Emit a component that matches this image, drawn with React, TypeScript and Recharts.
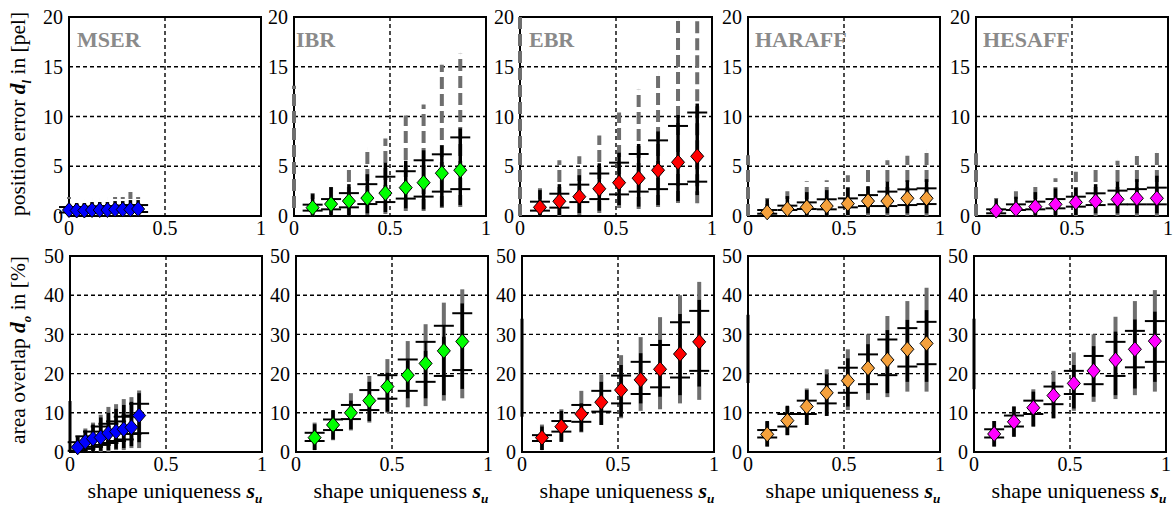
import React from 'react';
import { ScatterChart, Scatter, XAxis, YAxis, CartesianGrid, ErrorBar, ReferenceArea } from 'recharts';

const FONT = 'Liberation Serif';

// ---- bin centres (mean shape uniqueness per bin) ----
const X_MSER_TOP = [0, 0.04, 0.08, 0.12, 0.16, 0.2, 0.24, 0.28, 0.32, 0.36];
const X_MSER_BOT = [0.04, 0.08, 0.12, 0.16, 0.2, 0.24, 0.28, 0.32, 0.36];
const X_IBR = [0.097, 0.193, 0.286, 0.382, 0.476, 0.582, 0.675, 0.77, 0.866];
const X_EBR = [0.104, 0.205, 0.309, 0.413, 0.516, 0.618, 0.719, 0.823, 0.923];
const X_HARAFF = [0.1, 0.205, 0.306, 0.41, 0.52, 0.625, 0.726, 0.83, 0.93];
const X_HESAFF = [0.105, 0.208, 0.309, 0.414, 0.52, 0.623, 0.737, 0.838, 0.942];

// ---- position error d_l [pel] ----
const MSER_POS_MED = [0.6, 0.55, 0.55, 0.6, 0.6, 0.6, 0.65, 0.65, 0.65, 0.7];
const MSER_POS_CAP_LO = [0.35, 0.3, 0.3, 0.35, 0.35, 0.35, 0.4, 0.4, 0.4, 0.4];
const MSER_POS_CAP_HI = [0.9, 0.9, 0.9, 0.95, 0.95, 1.0, 1.0, 1.05, 1.1, 1.1];
const MSER_POS_BLK_LO = [0, 0, 0, 0, 0, 0, 0, 0, 0, 0];
const MSER_POS_BLK_HI = [1.2, 1.3, 1.3, 1.4, 1.4, 1.4, 1.5, 1.5, 1.6, 1.6];
const MSER_POS_GRY_LO = [0, 0, 0, 0, 0, 0, 0, 0, 0, 0];
const MSER_POS_GRY_HI = [1.9, 1.5, 1.5, 1.6, 1.6, 1.7, 1.9, 1.9, 2.4, 1.9];

const IBR_POS_MED = [0.84, 1.2, 1.5, 1.8, 2.3, 2.85, 3.35, 4.3, 4.6];
const IBR_POS_CAP_LO = [0.54, 0.67, 0.87, 1.2, 1.4, 1.75, 1.95, 2.45, 2.7];
const IBR_POS_CAP_HI = [1.14, 1.7, 2.3, 3.2, 3.95, 4.5, 5.6, 6.2, 7.9];
const IBR_POS_BLK_LO = [0, 0, 0, 0.27, 0.4, 0.77, 0.67, 0.93, 1.1];
const IBR_POS_BLK_HI = [2.2, 2.9, 3.2, 4.2, 5.35, 5.55, 6.6, 7.1, 8.8];
const IBR_POS_GRY_LO = [0, 0, 0, 0.1, 0.2, 0.5, 0.5, 0.8, 0.9];
const IBR_POS_GRY_HI = [2.3, 3.0, 4.7, 6.7, 7.8, 10.1, 11.2, 15.2, 16.3];

const EBR_POS_MED = [0.87, 1.48, 1.94, 2.74, 3.35, 3.8, 4.6, 5.4, 6.0];
const EBR_POS_CAP_LO = [0.54, 0.84, 1.4, 1.7, 2.17, 2.45, 2.7, 3.2, 3.45];
const EBR_POS_CAP_HI = [1.44, 2.24, 3.15, 4.27, 5.36, 6.23, 7.6, 9.05, 10.4];
const EBR_POS_BLK_LO = [0, 0.1, 0.3, 0.53, 1.1, 0.94, 1.1, 1.5, 2.1];
const EBR_POS_BLK_HI = [2.6, 3.2, 4.1, 5.3, 6.36, 7.24, 8.5, 10.15, 11.3];
const EBR_POS_GRY_LO = [0, 0, 0.1, 0.3, 0.8, 0.7, 0.9, 1.3, 1.27];
const EBR_POS_GRY_HI = [2.8, 5.6, 6.0, 8.1, 10.4, 12.7, 14.3, 19.8, 20];

const HARAFF_POS_MED = [0.37, 0.7, 0.87, 1.0, 1.24, 1.5, 1.5, 1.78, 1.78];
const HARAFF_POS_CAP_LO = [0.23, 0.6, 0.7, 0.67, 0.87, 1.0, 1.0, 1.1, 1.2];
const HARAFF_POS_CAP_HI = [0.6, 1.04, 1.37, 1.68, 1.77, 2.1, 2.45, 2.68, 2.78];
const HARAFF_POS_BLK_LO = [0, 0, 0, 0, 0.1, 0.27, 0.27, 0.27, 0.27];
const HARAFF_POS_BLK_HI = [1.7, 2.0, 2.4, 2.6, 2.85, 3.0, 3.45, 3.6, 3.7];
const HARAFF_POS_GRY_LO = [0, 0, 0, 0, 0, 0, 0, 0, 0];
const HARAFF_POS_GRY_HI = [1.8, 2.5, 3.5, 3.6, 4.1, 5.05, 5.6, 6.06, 6.47];

const HESAFF_POS_MED = [0.54, 0.7, 0.94, 1.17, 1.37, 1.47, 1.67, 1.78, 1.78];
const HESAFF_POS_CAP_LO = [0.27, 0.6, 0.67, 0.77, 0.94, 1.1, 1.17, 1.17, 1.17];
const HESAFF_POS_CAP_HI = [0.67, 1.17, 1.44, 1.7, 1.94, 2.28, 2.55, 2.7, 2.85];
const HESAFF_POS_BLK_LO = [0, 0, 0, 0, 0.1, 0.27, 0.27, 0.27, 0.27];
const HESAFF_POS_BLK_HI = [1.7, 1.94, 2.4, 2.78, 2.85, 3.2, 3.45, 3.7, 4.05];
const HESAFF_POS_GRY_LO = [0, 0, 0, 0, 0, 0, 0, 0, 0];
const HESAFF_POS_GRY_HI = [1.8, 2.5, 3.2, 3.8, 4.45, 4.95, 5.56, 6.03, 6.4];

// ---- area overlap d_o [%] ----
const MSER_OVL_MED = [1.2, 2.6, 3.4, 3.7, 4.8, 5.2, 5.8, 6.3, 9.3];
const MSER_OVL_CAP_LO = [0.3, 0.8, 1.3, 1.8, 2.3, 2.8, 3.2, 4.6, 4.8];
const MSER_OVL_CAP_HI = [2.5, 4.0, 5.2, 6.5, 7.2, 7.8, 9.0, 9.3, 12.3];
const MSER_OVL_BLK_LO = [0, 0, 0, 0.3, 0.5, 0.8, 1.0, 1.5, 2.5];
const MSER_OVL_BLK_HI = [3.8, 5.5, 7.0, 8.8, 10.0, 11.0, 12.0, 12.8, 15.0];
const MSER_OVL_GRY_LO = [0, 0, 0, 0, 0, 0.5, 0.5, 1.0, 1.0];
const MSER_OVL_GRY_HI = [4.0, 6.0, 7.5, 9.5, 11.5, 12.2, 13.5, 14.0, 15.7];

const IBR_OVL_MED = [3.66, 6.9, 10.0, 13.1, 16.7, 19.6, 22.6, 25.8, 28.2];
const IBR_OVL_CAP_LO = [2.8, 5.6, 8.4, 10.7, 13.6, 15.6, 17.9, 19.4, 20.9];
const IBR_OVL_CAP_HI = [4.9, 8.3, 12.0, 15.8, 19.6, 23.6, 28.1, 32.2, 35.4];
const IBR_OVL_BLK_LO = [0.5, 3.2, 5.8, 7.9, 10.3, 13.7, 13.7, 14.5, 16.1];
const IBR_OVL_BLK_HI = [7.1, 10.7, 13.1, 17.9, 20.2, 23.3, 25.8, 29.4, 37.9];
const IBR_OVL_GRY_LO = [0.5, 3.0, 5.5, 7.5, 10.0, 11.4, 11.7, 13.1, 13.7];
const IBR_OVL_GRY_HI = [7.5, 10.5, 15.0, 19.4, 23.7, 28.3, 32.6, 38.1, 41.5];

const EBR_OVL_MED = [3.66, 6.46, 9.7, 12.7, 15.8, 18.4, 21.1, 25.0, 28.1];
const EBR_OVL_CAP_LO = [2.8, 5.2, 7.7, 10.3, 12.4, 14.8, 16.5, 19.0, 20.7];
const EBR_OVL_CAP_HI = [4.3, 7.9, 12.0, 15.6, 19.5, 23.0, 27.3, 33.1, 36.0];
const EBR_OVL_BLK_LO = [0.5, 2.6, 5.2, 6.9, 9.0, 12.4, 14.1, 14.5, 16.7];
const EBR_OVL_BLK_HI = [6.5, 10.5, 12.4, 17.9, 22.2, 25.2, 28.6, 35.2, 38.8];
const EBR_OVL_GRY_LO = [0.5, 2.6, 5.0, 6.9, 8.6, 10.5, 10.9, 12.4, 13.3];
const EBR_OVL_GRY_HI = [7.0, 10.9, 15.6, 19.8, 24.7, 29.3, 34.4, 40.0, 43.4];

const HARAFF_OVL_MED = [4.5, 8.0, 11.6, 15.1, 18.2, 21.4, 23.5, 26.2, 27.7];
const HARAFF_OVL_CAP_LO = [3.7, 6.5, 9.7, 12.4, 15.1, 17.3, 19.6, 21.8, 22.4];
const HARAFF_OVL_CAP_HI = [5.6, 9.7, 13.1, 17.3, 21.5, 24.9, 28.7, 31.6, 33.2];
const HARAFF_OVL_BLK_LO = [1.4, 4.3, 6.9, 9.2, 11.6, 15.0, 15.0, 17.9, 17.9];
const HARAFF_OVL_BLK_HI = [7.9, 11.8, 15.8, 19.8, 23.9, 27.5, 31.1, 33.7, 36.2];
const HARAFF_OVL_GRY_LO = [1.4, 4.3, 6.9, 9.2, 10.7, 13.3, 14.0, 15.4, 15.4];
const HARAFF_OVL_GRY_HI = [7.8, 11.6, 16.2, 21.1, 26.2, 30.0, 34.7, 38.5, 41.9];

const HESAFF_OVL_MED = [4.6, 7.7, 11.3, 14.4, 17.5, 20.7, 23.5, 26.2, 28.3];
const HESAFF_OVL_CAP_LO = [3.7, 6.5, 9.7, 12.2, 14.8, 17.3, 19.4, 21.6, 23.0];
const HESAFF_OVL_CAP_HI = [5.8, 9.3, 13.1, 16.7, 20.7, 24.5, 28.1, 30.9, 33.4];
const HESAFF_OVL_BLK_LO = [1.4, 3.9, 6.5, 8.6, 11.1, 14.1, 14.5, 16.2, 17.9];
const HESAFF_OVL_BLK_HI = [7.9, 11.6, 15.4, 17.9, 22.2, 27.0, 30.7, 33.8, 35.8];
const HESAFF_OVL_GRY_LO = [1.4, 3.9, 6.5, 8.6, 10.5, 12.8, 13.5, 14.5, 15.4];
const HESAFF_OVL_GRY_HI = [7.9, 11.6, 16.0, 20.7, 25.4, 30.0, 34.5, 38.5, 41.3];

// partial bins at s_u = 0 that only show as a bar on the left frame: [lo, hi]
const EDGE_POS: ([number, number] | null)[] = [null, [0.8, 13.1], [0, 20], [0, 6.1], [0, 6.3]];
const EDGE_OVL: ([number, number] | null)[] = [[0, 13], null, [9, 34], [17.6, 35], [16, 34]];

const DETECTORS = ['MSER', 'IBR', 'EBR', 'HARAFF', 'HESAFF'];
const COLORS = ['#0000ff', '#00ff00', '#ff0000', '#f5a13c', '#ff00ff'];
const POS_TICKS = [0, 5, 10, 15, 20];
const OVL_TICKS = [0, 10, 20, 30, 40, 50];
const X_TICKS = [0, 0.5, 1];

type Row = { x: number; med: number; capLo: number; capHi: number; blkLo: number; blkHi: number; gryLo: number; gryHi: number };
type Edge = { x: number; med: number; lo: number; hi: number };

const rows = (xs: number[], med: number[], capLo: number[], capHi: number[], blkLo: number[], blkHi: number[], gryLo: number[], gryHi: number[]): Row[] =>
    xs.map((x, i) => ({
        x, med: med[i], capLo: capLo[i], capHi: capHi[i], blkLo: blkLo[i], blkHi: blkHi[i], gryLo: gryLo[i], gryHi: gryHi[i],
    }));

const POS_DATA: Row[][] = [
    rows(X_MSER_TOP, MSER_POS_MED, MSER_POS_CAP_LO, MSER_POS_CAP_HI, MSER_POS_BLK_LO, MSER_POS_BLK_HI, MSER_POS_GRY_LO, MSER_POS_GRY_HI),
    rows(X_IBR, IBR_POS_MED, IBR_POS_CAP_LO, IBR_POS_CAP_HI, IBR_POS_BLK_LO, IBR_POS_BLK_HI, IBR_POS_GRY_LO, IBR_POS_GRY_HI),
    rows(X_EBR, EBR_POS_MED, EBR_POS_CAP_LO, EBR_POS_CAP_HI, EBR_POS_BLK_LO, EBR_POS_BLK_HI, EBR_POS_GRY_LO, EBR_POS_GRY_HI),
    rows(X_HARAFF, HARAFF_POS_MED, HARAFF_POS_CAP_LO, HARAFF_POS_CAP_HI, HARAFF_POS_BLK_LO, HARAFF_POS_BLK_HI, HARAFF_POS_GRY_LO, HARAFF_POS_GRY_HI),
    rows(X_HESAFF, HESAFF_POS_MED, HESAFF_POS_CAP_LO, HESAFF_POS_CAP_HI, HESAFF_POS_BLK_LO, HESAFF_POS_BLK_HI, HESAFF_POS_GRY_LO, HESAFF_POS_GRY_HI),
];

const OVL_DATA: Row[][] = [
    rows(X_MSER_BOT, MSER_OVL_MED, MSER_OVL_CAP_LO, MSER_OVL_CAP_HI, MSER_OVL_BLK_LO, MSER_OVL_BLK_HI, MSER_OVL_GRY_LO, MSER_OVL_GRY_HI),
    rows(X_IBR, IBR_OVL_MED, IBR_OVL_CAP_LO, IBR_OVL_CAP_HI, IBR_OVL_BLK_LO, IBR_OVL_BLK_HI, IBR_OVL_GRY_LO, IBR_OVL_GRY_HI),
    rows(X_EBR, EBR_OVL_MED, EBR_OVL_CAP_LO, EBR_OVL_CAP_HI, EBR_OVL_BLK_LO, EBR_OVL_BLK_HI, EBR_OVL_GRY_LO, EBR_OVL_GRY_HI),
    rows(X_HARAFF, HARAFF_OVL_MED, HARAFF_OVL_CAP_LO, HARAFF_OVL_CAP_HI, HARAFF_OVL_BLK_LO, HARAFF_OVL_BLK_HI, HARAFF_OVL_GRY_LO, HARAFF_OVL_GRY_HI),
    rows(X_HESAFF, HESAFF_OVL_MED, HESAFF_OVL_CAP_LO, HESAFF_OVL_CAP_HI, HESAFF_OVL_BLK_LO, HESAFF_OVL_BLK_HI, HESAFF_OVL_GRY_LO, HESAFF_OVL_GRY_HI),
];

const toEdge = (e: [number, number] | null): Edge[] => (e ? [{ x: 0, med: (e[0] + e[1]) / 2, lo: e[0], hi: e[1] }] : []);

// ErrorBar wants offsets from the plotted value, not absolute bounds
const spread = (lo: keyof Row, hi: keyof Row) => (d: Row) => [d.med - d[lo], d[hi] - d.med];
const edgeSpread = (d: Edge) => [d.med - d.lo, d.hi - d.med];

// layout of the plot areas (px)
const YW = 46;
const XH = 32;
const MT = 10;
const MR = 8;
const PW = 192;
const TOP_LEFTS = [69, 294, 520, 748, 976];
const BOT_LEFTS = [70, 296, 522, 748, 974];
const TITLE_DX = [8, 2, 9, 7, 7];

const GRAY = '#6e6e6e';

const diamond = (fill: string) => (props: any) => {
    const { cx, cy } = props;
    if (cx == null || cy == null) return <g />;
    return (
        <polygon
            points={`${cx},${cy - 7.5} ${cx + 6.5},${cy} ${cx},${cy + 7.5} ${cx - 6.5},${cy}`}
            fill={fill}
            stroke="#000"
            strokeWidth={1}
        />
    );
};

const tickStyle = { fontSize: 20, fill: '#000', fontFamily: FONT };
const subStyle: React.CSSProperties = { fontSize: '0.6em', fontStyle: 'italic', fontWeight: 'bold' };

interface PanelProps {
    left: number;
    top: number;
    height: number;
    yMax: number;
    yTicks: number[];
    data: Row[];
    edge: Edge[];
    color: string;
    dashed: boolean;
}

const Panel: React.FC<PanelProps> = ({ left, top, height, yMax, yTicks, data, edge, color, dashed }) => (
    <div style={{ position: 'absolute', left: left - YW, top: top - MT }}>
        <ScatterChart
            width={YW + PW + MR}
            height={MT + height + XH}
            margin={{ top: MT, right: MR, bottom: 0, left: 0 }}
            style={{ fontFamily: FONT }}
        >
            <CartesianGrid stroke="#000" strokeDasharray="4 3" strokeWidth={1.4} />
            <XAxis
                type="number"
                dataKey="x"
                domain={[0, 1]}
                ticks={X_TICKS}
                axisLine={false}
                tickLine={false}
                tickSize={4}
                tickMargin={1}
                height={XH}
                tick={tickStyle}
                interval={0}
            />
            <YAxis
                type="number"
                dataKey="med"
                domain={[0, yMax]}
                ticks={yTicks}
                axisLine={false}
                tickLine={false}
                tickSize={4}
                tickMargin={2}
                width={YW}
                tick={tickStyle}
                interval={0}
            />
            <Scatter data={edge} shape={() => <g />} isAnimationActive={false}>
                <ErrorBar
                    dataKey={edgeSpread as any}
                    direction="y"
                    width={0}
                    stroke={dashed ? GRAY : '#000'}
                    strokeWidth={dashed ? 4 : 3}
                    strokeDasharray={dashed ? '12 5' : undefined}
                />
            </Scatter>
            <Scatter data={data} shape={diamond(color)} isAnimationActive={false}>
                <ErrorBar
                    dataKey={spread('gryLo', 'gryHi') as any}
                    direction="y"
                    width={0}
                    stroke={GRAY}
                    strokeWidth={4}
                    strokeDasharray={dashed ? '12 5' : undefined}
                />
                <ErrorBar dataKey={spread('blkLo', 'blkHi') as any} direction="y" width={0} stroke="#000" strokeWidth={3.5} />
                <ErrorBar dataKey={spread('capLo', 'capHi') as any} direction="y" width={10} stroke="#000" strokeWidth={2} />
            </Scatter>
            <ReferenceArea x1={0} x2={1} y1={0} y2={yMax} fill="none" fillOpacity={0} stroke="#000" strokeWidth={2} />
        </ScatterChart>
    </div>
);

const App: React.FC = () => (
    <div style={{ position: 'absolute', left: 0, top: 0, width: 1174, height: 509, background: '#fff', fontFamily: FONT, color: '#000' }}>
        {DETECTORS.map((name, i) => (
            <Panel
                key={`pos-${name}`}
                left={TOP_LEFTS[i]}
                top={17}
                height={199}
                yMax={20}
                yTicks={POS_TICKS}
                data={POS_DATA[i]}
                edge={toEdge(EDGE_POS[i])}
                color={COLORS[i]}
                dashed
            />
        ))}
        {DETECTORS.map((name, i) => (
            <Panel
                key={`ovl-${name}`}
                left={BOT_LEFTS[i]}
                top={256}
                height={196}
                yMax={50}
                yTicks={OVL_TICKS}
                data={OVL_DATA[i]}
                edge={toEdge(EDGE_OVL[i])}
                color={COLORS[i]}
                dashed={false}
            />
        ))}

        {DETECTORS.map((name, i) => (
            <div
                key={`title-${name}`}
                style={{
                    position: 'absolute', left: TOP_LEFTS[i] + TITLE_DX[i], top: 29, fontSize: 22, lineHeight: '22px',
                    fontWeight: 'bold', color: '#8a8a8a', fontFamily: FONT,
                }}
            >
                {name}
            </div>
        ))}

        <div
            style={{
                position: 'absolute', left: 23, top: 114, fontSize: 21.5, lineHeight: '21px', whiteSpace: 'nowrap',
                transform: 'translate(-50%, -50%) rotate(-90deg)', fontFamily: FONT,
            }}
        >
            position error <b><i>d</i></b><sub style={subStyle}>l</sub> in [pel]
        </div>
        <div
            style={{
                position: 'absolute', left: 23, top: 350, fontSize: 21.5, lineHeight: '21px', whiteSpace: 'nowrap',
                transform: 'translate(-50%, -50%) rotate(-90deg)', fontFamily: FONT,
            }}
        >
            area overlap <b><i>d</i></b><sub style={subStyle}>o</sub> in [%]
        </div>

        {BOT_LEFTS.map((l, i) => (
            <div
                key={`xl-${i}`}
                style={{
                    position: 'absolute', left: l + PW / 2 + 9, top: 480, fontSize: 22, lineHeight: '22px',
                    whiteSpace: 'nowrap', transform: 'translateX(-50%)', fontFamily: FONT,
                }}
            >
                shape uniqueness <b><i>s</i></b><sub style={subStyle}>u</sub>
            </div>
        ))}
    </div>
);

export default App;
